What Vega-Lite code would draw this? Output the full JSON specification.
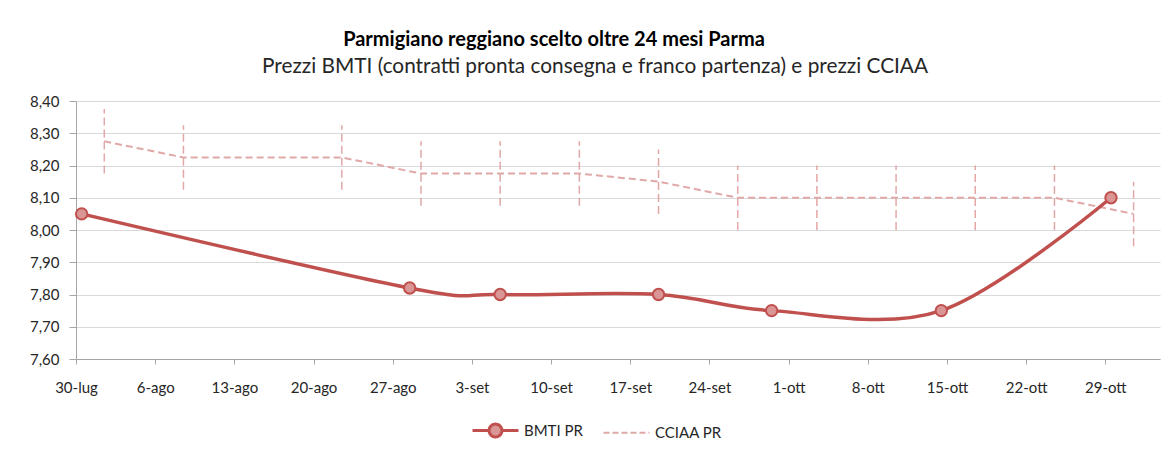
{
  "$schema": "https://vega.github.io/schema/vega-lite/v6.json",
  "autosize": {"type": "none"},
  "width": 1084,
  "height": 258,
  "padding": {"left": 76, "top": 101, "right": 10, "bottom": 91},
  "background": "white",
  "title": {
    "text": "Parmigiano reggiano scelto oltre 24 mesi Parma",
    "subtitle": "Prezzi BMTI (contratti pronta consegna e franco partenza) e prezzi CCIAA",
    "anchor": "middle",
    "frame": "group",
    "dx": -23,
    "offset": 17,
    "font": "Lato",
    "fontSize": 20,
    "fontWeight": "bold",
    "color": "#000000",
    "subtitleFont": "Lato",
    "subtitleFontSize": 20.8,
    "subtitleColor": "#262626",
    "subtitlePadding": 7,
    "encode": {"title": {"update": {"dx": {"value": -64}}}}
  },
  "data": {
    "values": [
      {"date": "2012-07-30T12:00:00", "series": "BMTI PR", "value": 8.05},
      {"date": "2012-08-28T12:00:00", "series": "BMTI PR", "value": 7.82},
      {"date": "2012-09-05T12:00:00", "series": "BMTI PR", "value": 7.80},
      {"date": "2012-09-19T12:00:00", "series": "BMTI PR", "value": 7.80},
      {"date": "2012-09-29T12:00:00", "series": "BMTI PR", "value": 7.75},
      {"date": "2012-10-14T12:00:00", "series": "BMTI PR", "value": 7.75},
      {"date": "2012-10-29T12:00:00", "series": "BMTI PR", "value": 8.10},
      {"date": "2012-08-01T12:00:00", "series": "CCIAA PR", "value": 8.275, "min": 8.175, "max": 8.375},
      {"date": "2012-08-08T12:00:00", "series": "CCIAA PR", "value": 8.225, "min": 8.125, "max": 8.325},
      {"date": "2012-08-22T12:00:00", "series": "CCIAA PR", "value": 8.225, "min": 8.125, "max": 8.325},
      {"date": "2012-08-29T12:00:00", "series": "CCIAA PR", "value": 8.175, "min": 8.075, "max": 8.275},
      {"date": "2012-09-05T12:00:00", "series": "CCIAA PR", "value": 8.175, "min": 8.075, "max": 8.275},
      {"date": "2012-09-12T12:00:00", "series": "CCIAA PR", "value": 8.175, "min": 8.075, "max": 8.275},
      {"date": "2012-09-19T12:00:00", "series": "CCIAA PR", "value": 8.15, "min": 8.05, "max": 8.25},
      {"date": "2012-09-26T12:00:00", "series": "CCIAA PR", "value": 8.10, "min": 8.00, "max": 8.20},
      {"date": "2012-10-03T12:00:00", "series": "CCIAA PR", "value": 8.10, "min": 8.00, "max": 8.20},
      {"date": "2012-10-10T12:00:00", "series": "CCIAA PR", "value": 8.10, "min": 8.00, "max": 8.20},
      {"date": "2012-10-17T12:00:00", "series": "CCIAA PR", "value": 8.10, "min": 8.00, "max": 8.20},
      {"date": "2012-10-24T12:00:00", "series": "CCIAA PR", "value": 8.10, "min": 8.00, "max": 8.20},
      {"date": "2012-10-31T12:00:00", "series": "CCIAA PR", "value": 8.05, "min": 7.95, "max": 8.15}
    ]
  },
  "encoding": {
    "x": {
      "field": "date",
      "type": "temporal",
      "scale": {
        "domain": [
          {"year": 2012, "month": 7, "date": 30},
          {"year": 2012, "month": 11, "date": 2, "hours": 20}
        ],
        "nice": false
      },
      "axis": {
        "title": null,
        "grid": false,
        "values": [
          {"year": 2012, "month": 7, "date": 30},
          {"year": 2012, "month": 8, "date": 6},
          {"year": 2012, "month": 8, "date": 13},
          {"year": 2012, "month": 8, "date": 20},
          {"year": 2012, "month": 8, "date": 27},
          {"year": 2012, "month": 9, "date": 3},
          {"year": 2012, "month": 9, "date": 10},
          {"year": 2012, "month": 9, "date": 17},
          {"year": 2012, "month": 9, "date": 24},
          {"year": 2012, "month": 10, "date": 1},
          {"year": 2012, "month": 10, "date": 8},
          {"year": 2012, "month": 10, "date": 15},
          {"year": 2012, "month": 10, "date": 22},
          {"year": 2012, "month": 10, "date": 29}
        ],
        "labelExpr": "date(datum.value) + '-' + ['gen','feb','mar','apr','mag','giu','lug','ago','set','ott','nov','dic'][month(datum.value)]",
        "labelFlush": false,
        "labelOverlap": false,
        "labelDx": 4,
        "labelPadding": 16,
        "tickSize": 5,
        "tickColor": "#a6a6a6",
        "domainColor": "#a6a6a6",
        "labelFont": "Lato",
        "labelFontSize": 15,
        "labelColor": "#262626"
      }
    }
  },
  "layer": [
    {
      "transform": [{"filter": "datum.series === 'CCIAA PR'"}],
      "mark": {"type": "rule", "strokeDash": [8, 4], "strokeWidth": 1.5, "color": "#e0a9a8"},
      "encoding": {
        "y": {
          "field": "min",
          "type": "quantitative",
          "scale": {"domain": [7.6, 8.4], "nice": false, "zero": false},
          "axis": {
            "title": null,
            "values": [7.6, 7.7, 7.8, 7.9, 8.0, 8.1, 8.2, 8.3, 8.4],
            "tickCount": 9,
            "labelExpr": "replace(format(datum.value, '.2f'), '.', ',')",
            "labelOverlap": false,
            "labelFlush": false,
            "grid": true,
            "gridColor": "#d9d9d9",
            "gridWidth": 1,
            "domainColor": "#a6a6a6",
            "tickColor": "#a6a6a6",
            "tickSize": 7,
            "labelPadding": 10,
            "labelFont": "Lato",
            "labelFontSize": 15,
            "labelColor": "#262626"
          }
        },
        "y2": {"field": "max"}
      }
    },
    {
      "transform": [{"filter": "datum.series === 'CCIAA PR'"}],
      "mark": {"type": "line", "strokeDash": [7, 4], "strokeWidth": 2},
      "encoding": {
        "y": {
          "field": "value",
          "type": "quantitative",
          "scale": {"domain": [7.6, 8.4], "nice": false, "zero": false},
          "axis": {
            "title": null,
            "values": [7.6, 7.7, 7.8, 7.9, 8.0, 8.1, 8.2, 8.3, 8.4],
            "tickCount": 9,
            "labelExpr": "replace(format(datum.value, '.2f'), '.', ',')",
            "labelOverlap": false,
            "labelFlush": false,
            "grid": true,
            "gridColor": "#d9d9d9",
            "gridWidth": 1,
            "domainColor": "#a6a6a6",
            "tickColor": "#a6a6a6",
            "tickSize": 7,
            "labelPadding": 10,
            "labelFont": "Lato",
            "labelFontSize": 15,
            "labelColor": "#262626"
          }
        },
        "color": {"field": "series", "type": "nominal"}
      }
    },
    {
      "transform": [{"filter": "datum.series === 'BMTI PR'"}],
      "mark": {"type": "line", "interpolate": "cardinal", "strokeWidth": 3.5},
      "encoding": {
        "y": {
          "field": "value",
          "type": "quantitative",
          "scale": {"domain": [7.6, 8.4], "nice": false, "zero": false},
          "axis": {
            "title": null,
            "values": [7.6, 7.7, 7.8, 7.9, 8.0, 8.1, 8.2, 8.3, 8.4],
            "tickCount": 9,
            "labelExpr": "replace(format(datum.value, '.2f'), '.', ',')",
            "labelOverlap": false,
            "labelFlush": false,
            "grid": true,
            "gridColor": "#d9d9d9",
            "gridWidth": 1,
            "domainColor": "#a6a6a6",
            "tickColor": "#a6a6a6",
            "tickSize": 7,
            "labelPadding": 10,
            "labelFont": "Lato",
            "labelFontSize": 15,
            "labelColor": "#262626"
          }
        },
        "color": {
          "field": "series",
          "type": "nominal",
          "scale": {"domain": ["BMTI PR", "CCIAA PR"], "range": ["#c0504d", "#e0a9a8"]},
          "legend": {
            "title": null,
            "orient": "none",
            "direction": "horizontal",
            "legendX": 412,
            "legendY": 322,
            "padding": 0,
            "symbolSize": 2116,
            "labelOffset": 21,
            "columnPadding": 16,
            "labelFont": "Lato",
            "labelFontSize": 15,
            "labelColor": "#262626",
            "encode": {
              "symbols": {
                "update": {
                  "shape": {"signal": "datum.value === 'BMTI PR' ? 'M-1,0L-0.28,0M0.28,0L1,0M0.28,0A0.28,0.28,0,1,1,-0.28,0A0.28,0.28,0,1,1,0.28,0Z' : 'M-1,0L1,0'"},
                  "fill": {"signal": "datum.value === 'BMTI PR' ? '#d99694' : 'transparent'"},
                  "stroke": {"signal": "datum.value === 'BMTI PR' ? '#c0504d' : '#e0a9a8'"},
                  "strokeWidth": {"signal": "datum.value === 'BMTI PR' ? 3 : 2"},
                  "strokeDash": {"signal": "datum.value === 'BMTI PR' ? [1, 0] : [6, 3]"},
                  "opacity": {"value": 1},
                  "fillOpacity": {"value": 1}
                }
              }
            }
          }
        }
      }
    },
    {
      "transform": [{"filter": "datum.series === 'BMTI PR'"}],
      "mark": {"type": "point", "filled": true, "size": 130, "fill": "#d99694", "stroke": "#c0504d", "strokeWidth": 2, "opacity": 1},
      "encoding": {
        "y": {
          "field": "value",
          "type": "quantitative",
          "scale": {"domain": [7.6, 8.4], "nice": false, "zero": false},
          "axis": {
            "title": null,
            "values": [7.6, 7.7, 7.8, 7.9, 8.0, 8.1, 8.2, 8.3, 8.4],
            "tickCount": 9,
            "labelExpr": "replace(format(datum.value, '.2f'), '.', ',')",
            "labelOverlap": false,
            "labelFlush": false,
            "grid": true,
            "gridColor": "#d9d9d9",
            "gridWidth": 1,
            "domainColor": "#a6a6a6",
            "tickColor": "#a6a6a6",
            "tickSize": 7,
            "labelPadding": 10,
            "labelFont": "Lato",
            "labelFontSize": 15,
            "labelColor": "#262626"
          }
        }
      }
    }
  ],
  "resolve": {"scale": {"y": "shared"}},
  "config": {
    "view": {"stroke": null}
  }
}
